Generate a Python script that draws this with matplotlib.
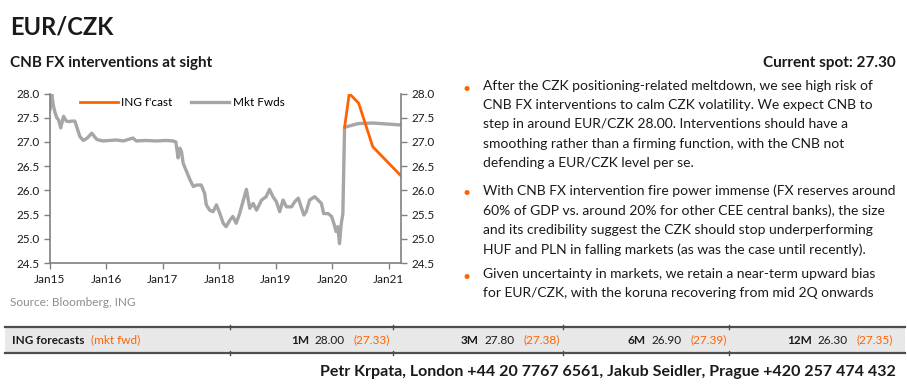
import matplotlib.pyplot as plt
from matplotlib.patches import Rectangle
from matplotlib.lines import Line2D

plt.rcParams['font.family'] = ['Lato', 'DejaVu Sans']

# EUR/CZK history (decimal year, level)
hist_t = [2015.00, 2015.03, 2015.06, 2015.09, 2015.12, 2015.15, 2015.19, 2015.24, 2015.29,
          2015.34, 2015.38, 2015.44, 2015.48, 2015.53, 2015.59, 2015.66, 2015.74, 2015.83,
          2015.94, 2016.05, 2016.18, 2016.30, 2016.47, 2016.53, 2016.70, 2016.89, 2017.05,
          2017.18, 2017.23, 2017.27, 2017.30, 2017.33, 2017.36, 2017.42, 2017.48, 2017.54,
          2017.60, 2017.68, 2017.74, 2017.77, 2017.83, 2017.89, 2017.95, 2018.01, 2018.07,
          2018.12, 2018.19, 2018.24, 2018.30, 2018.36, 2018.42, 2018.48, 2018.54, 2018.60,
          2018.66, 2018.75, 2018.83, 2018.89, 2018.95, 2019.01, 2019.07, 2019.13, 2019.19,
          2019.28, 2019.34, 2019.40, 2019.45, 2019.50, 2019.54, 2019.60, 2019.69, 2019.75,
          2019.81, 2019.85, 2019.93, 2019.99, 2020.03, 2020.07, 2020.10, 2020.13, 2020.16,
          2020.19]
hist_v = [27.67, 28.00, 27.75, 27.60, 27.50, 27.46, 27.29, 27.53, 27.43,
          27.42, 27.43, 27.43, 27.29, 27.11, 27.03, 27.08, 27.18, 27.05,
          27.02, 27.03, 27.04, 27.02, 27.08, 27.02, 27.03, 27.02, 27.03,
          27.02, 27.00, 26.67, 26.87, 26.80, 26.56, 26.39, 26.22, 26.08,
          26.11, 26.11, 25.94, 25.70, 25.59, 25.56, 25.70, 25.52, 25.32,
          25.25, 25.39, 25.46, 25.32, 25.52, 25.77, 26.02, 25.63, 25.73,
          25.59, 25.80, 25.87, 26.02, 25.87, 25.77, 25.56, 25.80, 25.66,
          25.66, 25.77, 25.84, 25.66, 25.49, 25.56, 25.80, 25.87, 25.80,
          25.73, 25.52, 25.52, 25.46, 25.32, 25.15, 25.25, 24.90, 25.30,
          25.52]

spot_t = 2020.22
spot = 27.30
horizons = ['1M', '3M', '6M', '12M']
horizon_months = [1, 3, 6, 12]
ing_fcast = [28.00, 27.80, 26.90, 26.30]
mkt_fwd = [27.33, 27.38, 27.39, 27.35]

x_ticks = [2015, 2016, 2017, 2018, 2019, 2020, 2021]
x_labels = ['Jan15', 'Jan16', 'Jan17', 'Jan18', 'Jan19', 'Jan20', 'Jan21']
y_ticks = [24.5, 25.0, 25.5, 26.0, 26.5, 27.0, 27.5, 28.0]

ORANGE = '#ff6200'
GREY = '#a6a6a6'
DARK = '#1a1a1a'
W, H = 907, 385


def fx(x):
    return x / W


def fy(y):
    return 1 - y / H


fig = plt.figure(figsize=(9.07, 3.85), dpi=100)

fc_t = [spot_t] + [spot_t + m / 12 for m in horizon_months]
ax = fig.add_axes([fx(50), fy(263), fx(401) - fx(50), fy(93.5) - fy(263)])
ax.plot(hist_t + fc_t, hist_v + [spot] + mkt_fwd, color=GREY, lw=2.4, label='Mkt Fwds', zorder=2)
ax.plot(fc_t, [spot] + ing_fcast, color=ORANGE, lw=2, label="ING f'cast", zorder=3)
ax.set_xlim(2015.0, fc_t[-1])
ax.set_ylim(24.5, 28.0)
ax.set_xticks(x_ticks)
ax.set_xticklabels(x_labels)
ax.set_yticks(y_ticks)
ax.set_yticklabels([f'{v:.1f}' for v in y_ticks])

ax2 = ax.twinx()
ax2.set_ylim(24.5, 28.0)
ax2.set_yticks(y_ticks)
ax2.set_yticklabels([f'{v:.1f}' for v in y_ticks])

for a in (ax, ax2):
    a.spines['top'].set_visible(False)
    for s in ('left', 'right', 'bottom'):
        a.spines[s].set_color('#808080')
        a.spines[s].set_linewidth(1.2)
    a.tick_params(colors='#808080', labelcolor=DARK, labelsize=8.5, length=4, width=1)
ax.spines['right'].set_visible(False)
ax2.spines['left'].set_visible(False)
ax2.spines['bottom'].set_visible(False)
ax.tick_params(axis='x', pad=4)

h, l = ax.get_legend_handles_labels()
ax.legend(h[::-1], l[::-1], loc='upper left', bbox_to_anchor=(0.055, 1.04), ncol=2, frameon=False,
          fontsize=8.5, handlelength=3.2, handletextpad=0.3, columnspacing=1.6)

# titles
fig.text(fx(10), fy(27), 'EUR/CZK', fontsize=17, fontweight='bold', color=DARK, va='center')
fig.text(fx(10), fy(63), 'CNB FX interventions at sight', fontsize=11, fontweight='bold', color=DARK, va='center')
fig.text(fx(896), fy(63), 'Current spot: 27.30', fontsize=11, fontweight='bold', color=DARK, va='center', ha='right')
fig.text(fx(10), fy(302), 'Source: Bloomberg, ING', fontsize=8.5, color='#8c8c8c', va='center')

# bullets
bullets = [
    ("After the CZK positioning-related meltdown, we see high risk of\n"
     "CNB FX interventions to calm CZK volatility. We expect CNB to\n"
     "step in around EUR/CZK 28.00. Interventions should have a\n"
     "smoothing rather than a firming function, with the CNB not\n"
     "defending a EUR/CZK level per se.", 89),
    ("With CNB FX intervention fire power immense (FX reserves around\n"
     "60% of GDP vs. around 20% for other CEE central banks), the size\n"
     "and its credibility suggest the CZK should stop underperforming\n"
     "HUF and PLN in falling markets (as was the case until recently).", 193),
    ("Given uncertainty in markets, we retain a near-term upward bias\n"
     "for EUR/CZK, with the koruna recovering from mid 2Q onwards", 277),
]
for txt, y0 in bullets:
    fig.text(fx(467), fy(y0), '•', fontsize=10, color=ORANGE, va='center', ha='center')
    fig.text(fx(483), fy(y0 - 9), txt, fontsize=10, color=DARK, va='top', ha='left', linespacing=1.72)

# forecast table
fig.add_artist(Rectangle((fx(5), fy(353)), fx(905) - fx(5), fy(327) - fy(353), facecolor='#e8e8e8',
                         edgecolor='none', transform=fig.transFigure))
for yy in (327, 353):
    fig.add_artist(Line2D([fx(5), fx(905)], [fy(yy), fy(yy)], color='#4d4d4d', lw=1.6, transform=fig.transFigure))
for xx in (230, 393, 563, 729):
    for yy in (327, 353):
        fig.add_artist(Line2D([fx(xx), fx(xx)], [fy(yy - 2), fy(yy + 2)], color='#4d4d4d', lw=1,
                              transform=fig.transFigure))

ty = fy(340)
fig.text(fx(12), ty, 'ING forecasts', fontsize=8.5, fontweight='bold', color=DARK, va='center')
fig.text(fx(91), ty, '(mkt fwd)', fontsize=8.5, color=ORANGE, va='center')
col_right = [390, 560, 727, 893]
for hz, fc, fw, xr in zip(horizons, ing_fcast, mkt_fwd, col_right):
    fig.text(fx(xr), ty, f'({fw:.2f})', fontsize=8.5, color=ORANGE, va='center', ha='right')
    fig.text(fx(xr - 45), ty, f'{fc:.2f}', fontsize=8.5, color=DARK, va='center', ha='right')
    fig.text(fx(xr - 81), ty, hz, fontsize=8.5, fontweight='bold', color=DARK, va='center', ha='right')

fig.text(fx(896), fy(372), 'Petr Krpata, London +44 20 7767 6561, Jakub Seidler, Prague +420 257 474 432',
         fontsize=11.5, fontweight='bold', color=DARK, va='center', ha='right')

fig.savefig('out.png', dpi=100)
